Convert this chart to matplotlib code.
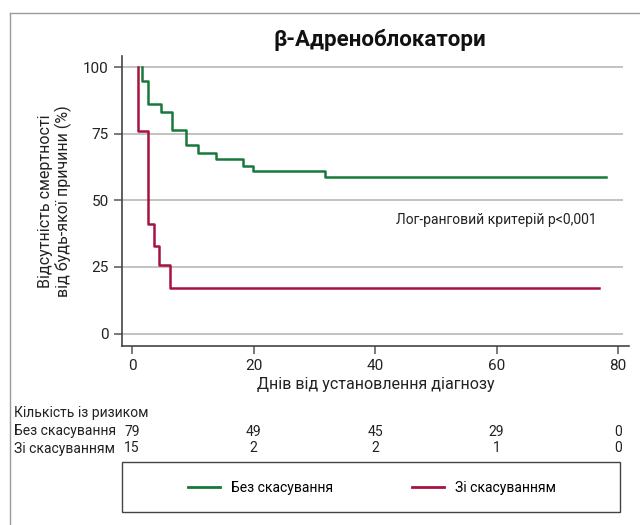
import matplotlib
matplotlib.use("Agg")
import matplotlib.pyplot as plt
from matplotlib.lines import Line2D
from matplotlib.patches import Rectangle
from matplotlib.transforms import blended_transform_factory

plt.rcParams['font.family'] = ['Roboto', 'DejaVu Sans']

# Data
green_t = [1.6, 1.6, 2.7, 4.7, 6.5, 8.9, 10.9, 13.8, 18.3, 19.9, 31.7, 78.0]
green_s = [100, 94.8, 86.0, 83.0, 76.4, 70.6, 67.7, 65.4, 63.0, 61.2, 58.7, 58.7]
red_t = [1.0, 1.0, 2.6, 3.6, 4.4, 6.2, 76.8]
red_s = [100, 76.0, 41.2, 33.0, 25.8, 17.0, 17.0]

risk_times = [0, 20, 40, 60, 80]
risk_green = [79, 49, 45, 29, 0]
risk_red = [15, 2, 2, 1, 0]

xticks = [0, 20, 40, 60, 80]
yticks = [0, 25, 50, 75, 100]

label_green = "Без скасування"
label_red = "Зі скасуванням"

GREEN = '#16793a'
RED = '#a8123f'
W, H = 640, 525

fig = plt.figure(figsize=(6.4, 5.25), dpi=100)
ax = fig.add_axes([122 / W, 1 - 345.5 / H, (629 - 122) / W, (345.5 - 56) / H])
ax.set_xlim(-1.65, 81.8)
ax.set_ylim(-4.5, 104.2)

for yv in yticks:
    ax.plot([-1.65, 80.8], [yv, yv], color='#bdbdbd', lw=1.3, zorder=1, solid_capstyle='butt')

ax.step(green_t, green_s, where='post', color=GREEN, lw=1.8, zorder=3, label=label_green)
ax.step(red_t, red_s, where='post', color=RED, lw=1.8, zorder=3, label=label_red)

ax.set_xticks(xticks)
ax.set_yticks(yticks)
ax.tick_params(axis='both', direction='out', length=6, width=1.1, color='#555555',
               labelsize=11, labelcolor='#222222')
for s in ['top', 'right']:
    ax.spines[s].set_visible(False)
for s in ['left', 'bottom']:
    ax.spines[s].set_color('#444444')
    ax.spines[s].set_linewidth(1.2)

ax.set_xlabel("Днів від установлення діагнозу", fontsize=11.5, color='#222222', labelpad=3)
ax.set_ylabel("Відсутність смертності\nвід будь-якої причини (%)", fontsize=11.5,
              color='#222222', labelpad=8, linespacing=1.1)

ax.text(60, 42.6, "Лог-ранговий критерій p<0,001", fontsize=10, color='#222222',
        ha='center', va='center')

fig.text(380 / W, 1 - 40 / H, "β-Адреноблокатори", fontsize=16, fontweight='bold',
         ha='center', va='center', color='#111111')

# Risk table
tr = blended_transform_factory(ax.transData, fig.transFigure)
fig.text(14 / W, 1 - 413 / H, "Кількість із ризиком", fontsize=10, va='center', color='#222222')
fig.text(14 / W, 1 - 431.5 / H, label_green, fontsize=10, va='center', color='#222222')
fig.text(14 / W, 1 - 448.5 / H, label_red, fontsize=10, va='center', color='#222222')
for t, g, r in zip(risk_times, risk_green, risk_red):
    ax.text(t, 1 - 431.5 / H, str(g), transform=tr, fontsize=10, ha='center', va='center', color='#222222')
    ax.text(t, 1 - 448.5 / H, str(r), transform=tr, fontsize=10, ha='center', va='center', color='#222222')

# Legend box
fig.add_artist(Rectangle((122 / W, 1 - 512 / H), (620 - 122) / W, 50 / H,
                         transform=fig.transFigure, fill=False, edgecolor='#444444', lw=1.0))
fig.legend(handles=[Line2D([], [], color=GREEN, lw=2), Line2D([], [], color=RED, lw=2)],
           labels=[label_green, label_red], loc='center', bbox_to_anchor=(372 / W, 1 - 488 / H),
           ncol=2, frameon=False, fontsize=10, handlelength=2.3, handletextpad=0.8,
           columnspacing=5.7)

# Figure frame lines
fig.add_artist(Line2D([10 / W, 1], [1 - 13 / H, 1 - 13 / H], transform=fig.transFigure,
                      color='#9a9a9a', lw=1.0))
fig.add_artist(Line2D([10 / W, 10 / W], [0, 1 - 13 / H], transform=fig.transFigure,
                      color='#9a9a9a', lw=1.0))

fig.savefig("out.png", dpi=100)
